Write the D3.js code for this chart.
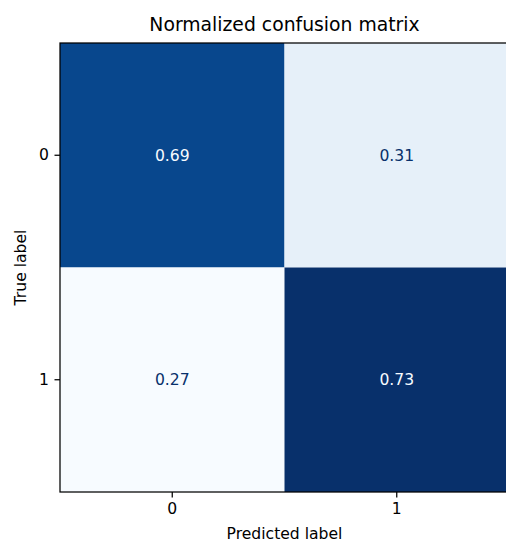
<!DOCTYPE html>
<html lang="en">
<head>
    <meta charset="UTF-8">
    <title>Normalized confusion matrix</title>
    <script src="https://cdn.jsdelivr.net/npm/d3@7"></script>
    <style>
        body { margin: 0; background: #fff; }
        text { font-family: "DejaVu Sans", sans-serif; }
    </style>
</head>
<body>
<svg width="506" height="543"></svg>
<script>

    const trueLabels = ["0", "1"]
    const predLabels = ["0", "1"]
    const matrix = [
        [0.69, 0.31],
        [0.27, 0.73]
    ]
    // matplotlib "Blues"
    const bluesStops = ["#f7fbff", "#deebf7", "#c6dbef", "#9ecae1", "#6baed6", "#4292c6", "#2171b5", "#08519c", "#08306b"]

    const margin = {left: 60, top: 43}
    const size = 449
    const fs = 15.6

    const svg = d3.select("svg")
    const g = svg.append("g").attr("transform", `translate(${margin.left},${margin.top})`)

    const x = d3.scaleBand().domain(predLabels).range([0, size])
    const y = d3.scaleBand().domain(trueLabels).range([0, size])

    const flat = matrix.flat()
    const norm = d3.scaleLinear().domain(d3.extent(flat)).range([0, 1])
    const blues = d3.scaleLinear()
        .domain(d3.range(bluesStops.length).map(i => i / (bluesStops.length - 1)))
        .range(bluesStops)
        .interpolate(d3.interpolateRgb)

    const cells = []
    matrix.forEach((row, i) => row.forEach((v, j) => cells.push({r: trueLabels[i], c: predLabels[j], v: v})))

    g.selectAll("rect.cell")
        .data(cells)
        .enter()
        .append("rect")
        .attr("class", "cell")
        .attr("x", d => x(d.c))
        .attr("y", d => y(d.r))
        .attr("width", x.bandwidth())
        .attr("height", y.bandwidth())
        .attr("fill", d => blues(norm(d.v)))

    const mid = (d3.min(flat) + d3.max(flat)) / 2
    g.selectAll("text.val")
        .data(cells)
        .enter()
        .append("text")
        .attr("class", "val")
        .attr("x", d => x(d.c) + x.bandwidth() / 2)
        .attr("y", d => y(d.r) + y.bandwidth() / 2)
        .attr("text-anchor", "middle")
        .attr("dy", "0.35em")
        .attr("font-size", fs + "px")
        .attr("fill", d => d.v > mid ? bluesStops[0] : bluesStops[bluesStops.length - 1])
        .text(d => d.v.toFixed(2))

    // frame
    g.append("rect")
        .attr("width", size).attr("height", size)
        .attr("fill", "none").attr("stroke", "#000").attr("stroke-width", 1.25)

    const xAxis = g.append("g")
        .attr("transform", `translate(0,${size})`)
        .call(d3.axisBottom(x).tickSize(5.5).tickPadding(5.5))
    const yAxis = g.append("g")
        .call(d3.axisLeft(y).tickSize(5.5).tickPadding(5.5))
    ;[xAxis, yAxis].forEach(a => {
        a.select(".domain").remove()
        a.selectAll(".tick line").attr("stroke", "#000").attr("stroke-width", 1.25)
        a.selectAll(".tick text").attr("font-size", fs + "px").attr("fill", "#000")
            .style("font-family", "DejaVu Sans, sans-serif")
    })

    svg.append("text")
        .attr("x", margin.left + size / 2).attr("y", 31)
        .attr("text-anchor", "middle").attr("font-size", "18.8px")
        .text("Normalized confusion matrix")

    svg.append("text")
        .attr("x", margin.left + size / 2).attr("y", 539)
        .attr("text-anchor", "middle").attr("font-size", fs + "px")
        .text("Predicted label")

    svg.append("text")
        .attr("transform", `translate(25.5,${margin.top + size / 2}) rotate(-90)`)
        .attr("text-anchor", "middle").attr("font-size", fs + "px")
        .text("True label")

</script>
</body>
</html>
